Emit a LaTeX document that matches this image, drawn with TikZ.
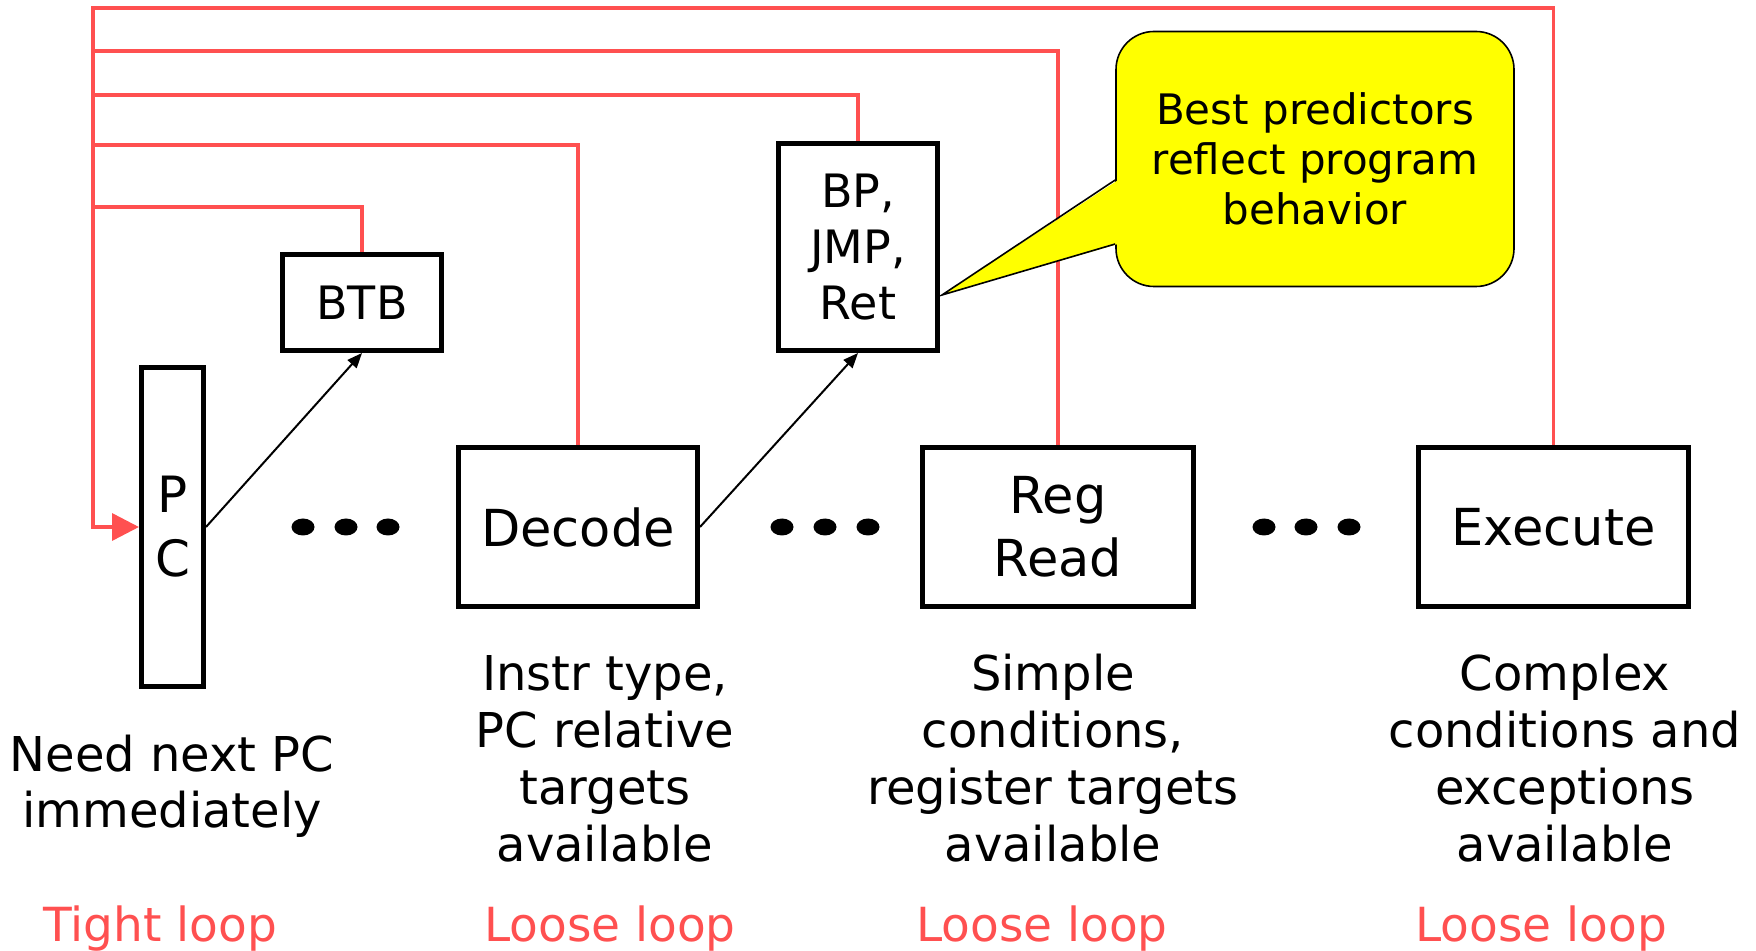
\documentclass[tikz,border=0pt]{standalone}
\usepackage{fontspec}
\setmainfont{DejaVu Sans}
\usetikzlibrary{arrows.meta, calc}
\definecolor{loopred}{RGB}{255,80,80}
\definecolor{noteyellow}{RGB}{255,255,0}

\begin{document}
\begin{tikzpicture}[x=0.5pt, y=-0.5pt,
  stage/.style={draw, line width=2.5pt, inner sep=0pt, align=center,
    minimum height=79.5pt, font=\fontsize{25.5pt}{31.5pt}\selectfont},
  pred/.style={stage, minimum width=79.5pt, font=\fontsize{23pt}{28pt}\selectfont},
  fb/.style={draw=loopred, line width=1.75pt},
  link/.style={draw, line width=1pt, -{Triangle[length=7.5pt,width=6pt]}},
  note/.style={align=center, anchor=base, font=\fontsize{24pt}{28.5pt}\selectfont},
  looplbl/.style={text=loopred, anchor=base, font=\fontsize{23.5pt}{28pt}\selectfont},
  bubble/.style={fill=noteyellow, draw, line width=0.8pt, rounded corners=19pt,
    inner sep=0pt, align=center, minimum width=199pt, minimum height=127.5pt,
    font=\fontsize{21pt}{25pt}\selectfont}]
  \useasboundingbox (0,0) rectangle (1756,951);

  % pipeline stages
  \node[stage, minimum width=31pt, minimum height=159.5pt,
    font=\fontsize{25pt}{32pt}\selectfont] (pc) at (172.5,527) {P\\C};
  \node[pred, minimum height=48pt] (btb) at (362,302.5) {BTB};
  \node[pred, minimum height=103.5pt] (bp) at (858,247) {BP,\\JMP,\\Ret};
  \node[stage, minimum width=119.5pt] (dec) at (578,527) {Decode};
  \node[stage, minimum width=135.5pt] (reg) at (1058,527) {Reg\\Read};
  \node[stage, minimum width=135pt] (exec) at (1553.5,527) {Execute};

  \foreach \x in {303,346,388,782,825,868,1264,1306,1349}
    \fill (\x,527) ellipse [x radius=5.75pt, y radius=4.25pt];

  % feedback paths
  \coordinate (rail) at (93,8);
  \draw[fb, -{Triangle[length=13.5pt,width=13.5pt]}] (exec.north) |- (rail) |- (pc.west);
  \foreach \n/\y in {reg/51, bp/95, dec/145, btb/207}
    \draw[fb] (\n.north) |- (rail |- 0,\y);

  \draw[link] (pc.east) -- (btb.south);
  \draw[link] (dec.east) -- (bp.south);

  % callout
  \coordinate (tip) at ([xshift=1pt,yshift=-24pt]bp.east);
  \node[bubble] (hint) at (1315,159) {Best predictors\\reflect program\\behavior};
  \fill[noteyellow] ([xshift=1.5pt,yshift=-10.5pt]hint.west) -- (tip)
    -- ([xshift=1.5pt,yshift=-42.5pt]hint.west) -- cycle;
  \draw[line width=0.8pt] ([yshift=-10.5pt]hint.west) -- (tip) -- ([yshift=-42.5pt]hint.west);

  % notes
  \node[note, font=\fontsize{24pt}{28pt}\selectfont] (pcnote) at (172,827) {Need next PC\\immediately};
  \node[note] (decnote) at (605,861) {Instr type,\\PC relative\\targets\\available};
  \node[note] (regnote) at (1053,861) {Simple\\conditions,\\register targets\\available};
  \node[note] (exnote) at (1565,861) {Complex\\conditions and\\exceptions\\available};

  \node[looplbl] (tight) at (160,941) {Tight loop};
  \node[looplbl] (loose1) at (610,941) {Loose loop};
  \node[looplbl] (loose2) at (1042,941) {Loose loop};
  \node[looplbl] (loose3) at (1541,941) {Loose loop};
\end{tikzpicture}
\end{document}
